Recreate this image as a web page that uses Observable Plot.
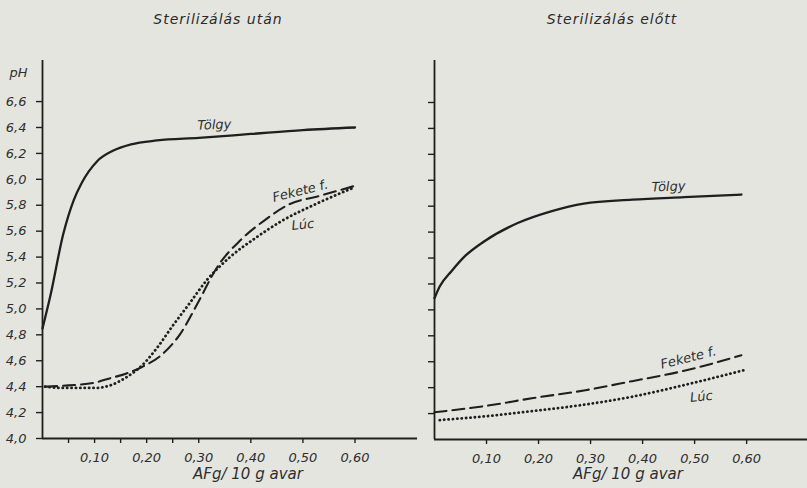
<!DOCTYPE html>
<html>
<head>
<meta charset="utf-8">
<script src="https://cdn.jsdelivr.net/npm/d3@7"></script>
<script src="https://cdn.jsdelivr.net/npm/@observablehq/plot@0.6"></script>
<style>
  html, body { margin: 0; padding: 0; background: #e5e5e0; }
  #wrap { position: relative; width: 807px; height: 488px; background: #e5e5e0; overflow: hidden;
          font-family: "DejaVu Sans", sans-serif; color: #2a2a2a; }
  .panel { position: absolute; top: 0; }
  .title { position: absolute; top: 11px; font-size: 14px; font-style: italic; white-space: nowrap;
           transform: translateX(-50%); letter-spacing: 1px; }
</style>
</head>
<body>
<div id="wrap">
  <div class="title" style="left:218px">Sterilizálás után</div>
  <div class="title" style="left:612px">Sterilizálás előtt</div>
  <div class="panel" id="left" style="left:0px"></div>
  <div class="panel" id="right" style="left:400px"></div>
</div>
<script>
// ---- Data ----
// Left panel: after sterilization
const afterTolgyX = [0, 0.015, 0.04, 0.06, 0.075, 0.105, 0.135, 0.17, 0.22, 0.30, 0.40, 0.50, 0.60];
const afterTolgyPH = [4.85, 5.10, 5.58, 5.84, 5.97, 6.14, 6.22, 6.27, 6.30, 6.32, 6.35, 6.38, 6.40];
const afterFeketeX = [0.005, 0.05, 0.10, 0.125, 0.16, 0.19, 0.23, 0.265, 0.30, 0.335, 0.38, 0.425, 0.475, 0.53, 0.60];
const afterFeketePH = [4.40, 4.41, 4.43, 4.46, 4.50, 4.55, 4.65, 4.81, 5.06, 5.32, 5.53, 5.68, 5.81, 5.87, 5.95];
const afterLucX = [0.005, 0.04, 0.10, 0.13, 0.16, 0.19, 0.22, 0.25, 0.28, 0.315, 0.36, 0.41, 0.46, 0.525, 0.60];
const afterLucPH = [4.40, 4.39, 4.39, 4.41, 4.47, 4.56, 4.70, 4.87, 5.03, 5.22, 5.40, 5.55, 5.68, 5.81, 5.94];
// Right panel: before sterilization
const beforeTolgyX = [0, 0.01, 0.033, 0.06, 0.096, 0.16, 0.224, 0.287, 0.38, 0.48, 0.59];
const beforeTolgyPH = [5.09, 5.18, 5.30, 5.42, 5.53, 5.67, 5.76, 5.82, 5.85, 5.87, 5.89];
const beforeFeketeX = [0, 0.10, 0.19, 0.29, 0.38, 0.48, 0.59];
const beforeFeketePH = [4.21, 4.26, 4.32, 4.38, 4.45, 4.53, 4.65];
const beforeLucX = [0.01, 0.10, 0.19, 0.29, 0.38, 0.48, 0.60];
const beforeLucPH = [4.15, 4.18, 4.22, 4.27, 4.33, 4.42, 4.54];

// Tick values / labels
const yTicks = [4.0, 4.2, 4.4, 4.6, 4.8, 5.0, 5.2, 5.4, 5.6, 5.8, 6.0, 6.2, 6.4, 6.6];
const yTicksRight = [4.2, 4.4, 4.6, 4.8, 5.0, 5.2, 5.4, 5.6, 5.8, 6.0, 6.2, 6.4, 6.6];
const xTicks = [0.10, 0.20, 0.30, 0.40, 0.50, 0.60];
const xMinorTicks = [0.05, 0.15, 0.25];
const xAxisLabel = "AFg/ 10 g avar";
const yAxisLabel = "pH";

// Curve labels (name, x, pH, rotation)
const leftLabels = [
  {name: "Tölgy", x: 0.33, y: 6.42, rotate: -2},
  {name: "Fekete f.", x: 0.495, y: 5.91, rotate: -14},
  {name: "Lúc", x: 0.50, y: 5.65, rotate: -6}
];
const rightLabels = [
  {name: "Tölgy", x: 0.45, y: 5.95, rotate: -2},
  {name: "Fekete f.", x: 0.488, y: 4.63, rotate: -14},
  {name: "Lúc", x: 0.513, y: 4.33, rotate: -6}
];

const zip = (xs, ys) => xs.map((x, i) => ({x, y: ys[i]}));
const fmtY = d => d.toFixed(1).replace(".", ",");
const fmtX = d => d.toFixed(2).replace(".", ",");
const ink = "#1f1f1f";
const textInk = "#2e2e2e";

function lines(tolgy, fekete, luc) {
  return [
    Plot.line(tolgy, {x: "x", y: "y", stroke: ink, strokeWidth: 2.3, curve: "monotone-x"}),
    Plot.line(fekete, {x: "x", y: "y", stroke: ink, strokeWidth: 2.1, strokeDasharray: "12,6", curve: "monotone-x"}),
    Plot.line(luc, {x: "x", y: "y", stroke: ink, strokeWidth: 2.8, strokeDasharray: "0.2,4.2", strokeLinecap: "round", curve: "monotone-x"})
  ];
}

const common = {
  height: 488,
  marginTop: 60,
  marginBottom: 50,
  style: {background: "transparent", fontFamily: "DejaVu Sans, sans-serif", fontSize: "13px", fontStyle: "italic", color: textInk, overflow: "visible"}
};

const left = Plot.plot({
  ...common,
  width: 420,
  marginLeft: 42,
  marginRight: 3,
  x: {domain: [0, 0.72], axis: null},
  y: {domain: [4.0, 6.917], axis: null},
  marks: [
    Plot.axisY({ticks: yTicks, tickFormat: fmtY, label: null, tickSize: 6, tickPadding: 10, stroke: ink, strokeWidth: 1.4, fill: textInk}),
    Plot.axisX({ticks: xTicks, tickFormat: fmtX, label: null, tickSize: 5, tickPadding: 9, stroke: ink, strokeWidth: 1.4, fill: textInk}),
    Plot.axisX({ticks: xMinorTicks, tickFormat: () => "", label: null, tickSize: 5, stroke: ink, strokeWidth: 1.4}),
    Plot.ruleX([0], {stroke: ink, strokeWidth: 1.8}),
    Plot.ruleY([4.0], {stroke: ink, strokeWidth: 1.8}),
    ...lines(zip(afterTolgyX, afterTolgyPH), zip(afterFeketeX, afterFeketePH), zip(afterLucX, afterLucPH)),
    Plot.text(leftLabels, {x: "x", y: "y", text: "name", rotate: "rotate", fill: textInk, fontSize: 13}),
    Plot.text([yAxisLabel], {frameAnchor: "top-left", dx: -24, dy: 7, fill: textInk, fontSize: 13, textAnchor: "middle"}),
    Plot.text([xAxisLabel], {frameAnchor: "bottom", dx: 18, dy: 40, fill: textInk, fontSize: 15, letterSpacing: "0.6px"})
  ]
});

const right = Plot.plot({
  ...common,
  width: 407,
  marginLeft: 34,
  marginRight: 0,
  marginBottom: 49,
  x: {domain: [0, 0.717], axis: null},
  y: {domain: [4.0, 6.924], axis: null},
  marks: [
    Plot.axisY({ticks: yTicksRight, tickFormat: () => "", label: null, tickSize: 6, stroke: ink, strokeWidth: 1.4}),
    Plot.axisX({ticks: xTicks, tickFormat: fmtX, label: null, tickSize: 5, tickPadding: 9, stroke: ink, strokeWidth: 1.4, fill: textInk}),
    Plot.ruleX([0], {stroke: ink, strokeWidth: 1.8}),
    Plot.ruleY([4.0], {stroke: ink, strokeWidth: 1.8}),
    ...lines(zip(beforeTolgyX, beforeTolgyPH), zip(beforeFeketeX, beforeFeketePH), zip(beforeLucX, beforeLucPH)),
    Plot.text(rightLabels, {x: "x", y: "y", text: "name", rotate: "rotate", fill: textInk, fontSize: 13}),
    Plot.text([xAxisLabel], {frameAnchor: "bottom", dx: 7, dy: 39, fill: textInk, fontSize: 15, letterSpacing: "0.6px"})
  ]
});

document.getElementById("left").appendChild(left);
document.getElementById("right").appendChild(right);
</script>
</body>
</html>
